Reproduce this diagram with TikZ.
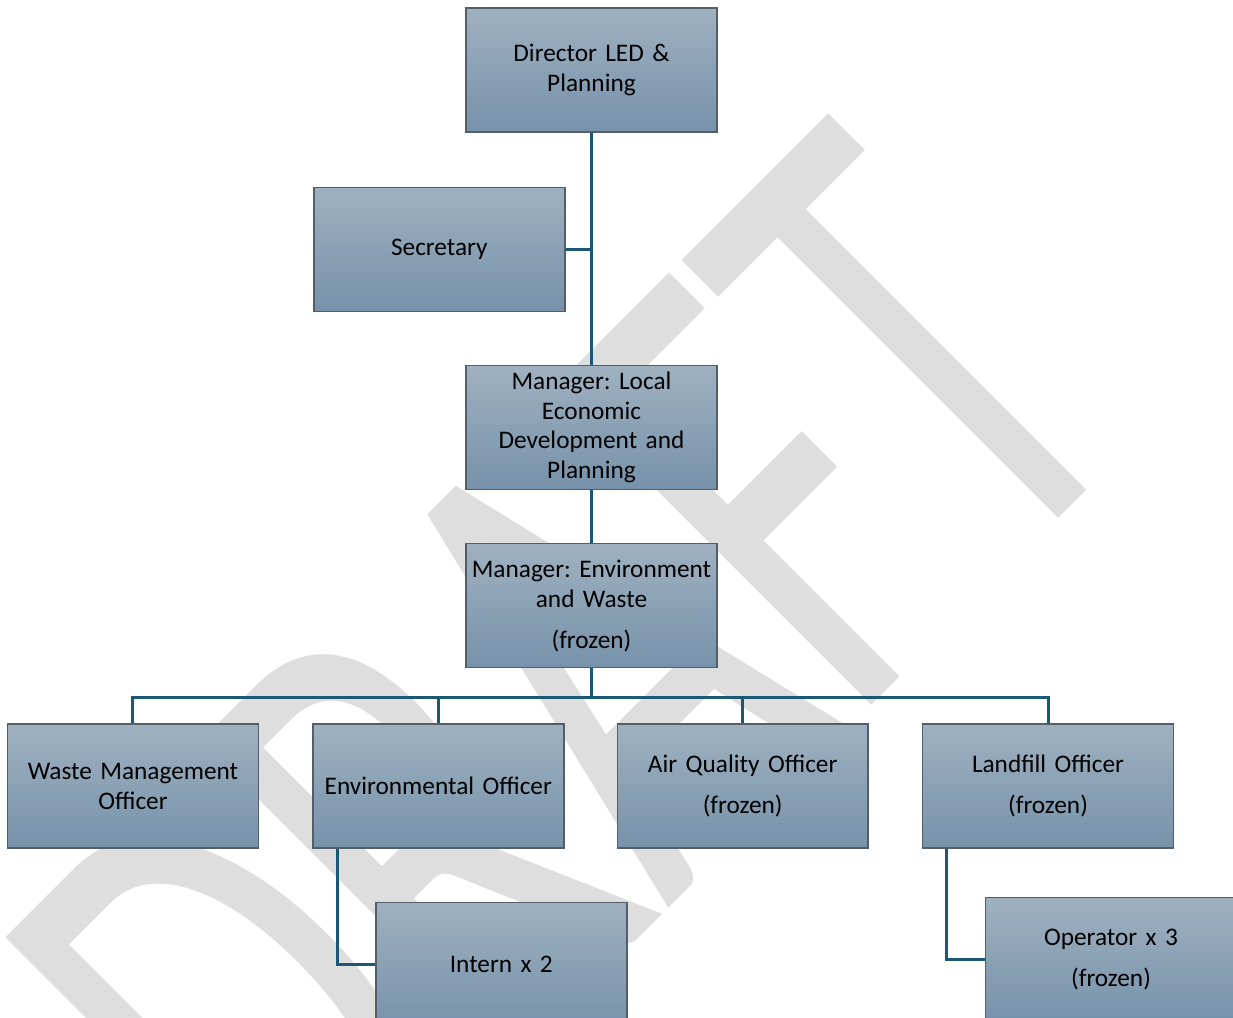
\documentclass[tikz,border=0pt]{standalone}
\usepackage{fontspec}
\setmainfont{Carlito}[WordSpace=0.65]
\frenchspacing
\usepackage{xcolor}
\usepackage{graphicx}
\usepackage{tikz}
\usetikzlibrary{positioning, calc}

\definecolor{boxtop}{RGB}{159,177,192}
\definecolor{boxbot}{RGB}{118,146,170}
\definecolor{boxline}{RGB}{84,94,104}
\definecolor{linkblue}{RGB}{27,88,118}
\definecolor{wmgray}{RGB}{222,222,222}

\begin{document}
\begin{tikzpicture}[
  x=0.02cm, y=-0.02cm,
  % ── Style definitions ──
  post/.style={
    rectangle, minimum width=5.02cm, minimum height=2.48cm,
    text width=4.9cm, align=center, inner sep=0pt,
    draw=boxline, line width=0.8pt,
    top color=boxtop, bottom color=boxbot,
    font=\fontsize{14.4}{17}\selectfont
  },
  link/.style ={draw=linkblue, line width=1.7pt},
  wmark/.style={text=wmgray, inner sep=0pt, rotate=45,
    font=\fontsize{398}{398}\selectfont},
  % ── Node placement ──
  node distance=1.06cm and 1.06cm
]
\clip (0,0) rectangle (1233,1017);

% ─────────── Watermark ──────────────────────────────────────
\node[wmark] (draft) at (567,693) {\scalebox{0.64}[1]{DRAFT}};

% ─────────── Top of the chart ───────────────────────────────
\node[post] (director) at (591.5,70) {Director LED \&\\Planning};
\node[post, below left=1.08cm and 0.52cm of director.south] (secretary) {Secretary};
\node[post, below=4.64cm of director] (mgrled)
  {Manager: Local\\Economic\\Development and\\Planning};
\node[post, below=1.06cm of mgrled] (mgrenv)
  {Manager: Environment\\and Waste\\[0.22cm](frozen)};

% ─────────── Officer row ────────────────────────────────────
\node[post, below left=1.1cm and 0.54cm of mgrenv.south]  (envoff)   {Environmental Officer};
\node[post, left=of envoff]                               (waste)    {Waste Management\\Officer};
\node[post, below right=1.1cm and 0.5cm of mgrenv.south]  (air)      {Air Quality Officer\\[0.22cm](frozen)};
\node[post, right=of air]                                 (landfill) {Landfill Officer\\[0.22cm](frozen)};

% ─────────── Bottom row ─────────────────────────────────────
\node[post, below right=1.06cm and 1.26cm of envoff.south west]   (intern)   {Intern x 2};
\node[post, below right=0.96cm and 1.26cm of landfill.south west] (operator) {Operator x 3\\[0.22cm](frozen)};

% ─────────── Connectors ─────────────────────────────────────
\draw[link] (director.south) -- (mgrled.north);
\draw[link] (secretary.east) -- (secretary.east -| director.south);
\draw[link] (mgrled.south) -- (mgrenv.north);
\coordinate (bus) at ($(mgrenv.south)+(0,-0.58cm)$);
\foreach \n in {waste, envoff, air, landfill}
  \draw[link] (mgrenv.south) -- (bus) -| (\n.north);
\draw[link] ([xshift=0.5cm]envoff.south west) |- (intern.west);
\draw[link] ([xshift=0.5cm]landfill.south west) |- (operator.west);
\end{tikzpicture}
\end{document}
